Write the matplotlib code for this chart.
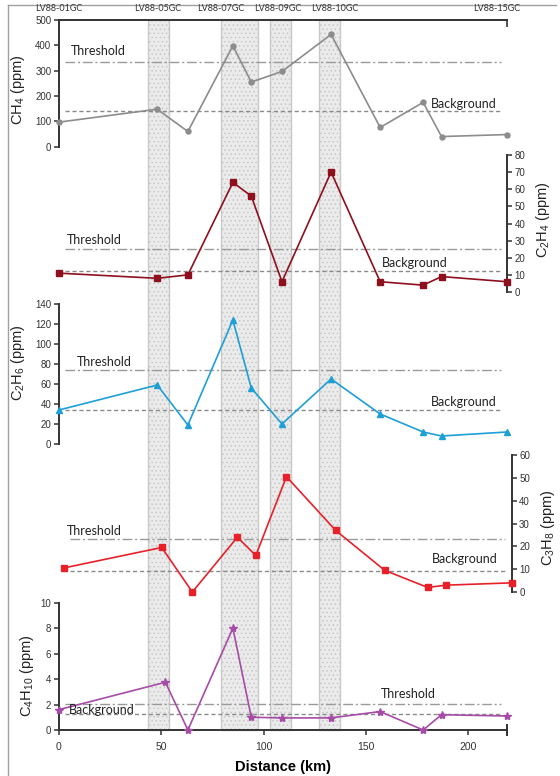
import matplotlib
matplotlib.use("Agg")
import matplotlib.pyplot as plt
from matplotlib.patches import Rectangle
from matplotlib.transforms import blended_transform_factory
from matplotlib.lines import Line2D

plt.rcParams["hatch.color"] = "#d6d6d6"
plt.rcParams["hatch.linewidth"] = 0.6
plt.rcParams["mathtext.fontset"] = "custom"
plt.rcParams["mathtext.rm"] = "Liberation Sans"
plt.rcParams["mathtext.it"] = "Liberation Sans"

# distance along the profile (km)
dist = [0, 48, 63, 85, 94, 109, 133, 157, 178, 187, 219]
dist_c4 = [0, 52, 63, 85, 94, 109, 133, 157, 178, 187, 219]

ch4 = [97, 148, 60, 398, 255, 297, 443, 76, 175, 40, 48]
c2h4 = [11, 8, 10, 64, 56, 6, 70, 6, 4, 9, 6]
c2h6 = [34, 59, 19, 124, 56, 20, 65, 30, 12, 8, 12]
c3h8 = [10.5, 19.5, 0, 24, 16, 50.5, 27, 9.5, 2, 3, 4]
c4h10 = [1.6, 3.75, 0, 8, 1.0, 0.95, 0.95, 1.45, 0, 1.2, 1.1]

threshold = [335, 25, 74, 23.4, 2.07]
background = [140, 12.5, 34, 9.1, 1.26]

# shaded core zones (km)
bands = [(43.6, 53.8), (79.2, 97.3), (103.2, 113.5), (126.9, 137.3)]

stations = ["LV88-01GC", "LV88-05GC", "LV88-07GC", "LV88-09GC", "LV88-10GC", "LV88-15GC"]
station_x = [0, 48, 79, 107, 135, 214]

W, H = 560, 776
fig = plt.figure(figsize=(W / 100, H / 100), dpi=100)

def px(x0, y_top, y_bot, x1):
    return [x0 / W, 1 - y_bot / H, (x1 - x0) / W, (y_bot - y_top) / H]

note_font = dict(family="Lato", size=9, color="#222222")

def panel(rect, x, y, color, marker, ms, ylim, step, side, thr, bg, thr_xy, bg_xy):
    ax = fig.add_axes(rect)
    ax.set_facecolor("none")
    ax.set_xlim(0, 219)
    ax.set_ylim(*ylim)
    for s in ["left", "right", "top", "bottom"]:
        ax.spines[s].set_visible(False)
    ax.spines[side].set_visible(True)
    ax.spines[side].set_linewidth(1.4)
    ax.spines[side].set_color("#333333")
    if side == "right":
        ax.yaxis.tick_right()
    else:
        ax.yaxis.tick_left()
    ax.set_yticks(range(ylim[0], ylim[1] + 1, step))
    ax.tick_params(axis="y", length=3.5, width=1.1, color="#333333", pad=2,
                   labelsize=7, labelcolor="#333333")
    for lab in ax.get_yticklabels():
        lab.set_family("Liberation Sans")
    ax.set_xticks([])
    ax.hlines(thr, 3, 216, colors="#9a9a9a", linestyles=(0, (7, 2, 1.5, 2)), lw=1)
    ax.hlines(bg, 3, 216, colors="#8a8a8a", linestyles=(0, (3, 2)), lw=1)
    ax.plot(x, y, color=color, lw=1.2, marker=marker, ms=ms, clip_on=False, zorder=3)
    ax.text(thr_xy[0], thr_xy[1], "Threshold", ha="left", va="center", **note_font)
    ax.text(bg_xy[0], bg_xy[1], "Background", ha="left", va="center", **note_font)
    return ax

ax1 = panel(px(59, 20, 146.7, 507), dist, ch4, "#8c8c8c", "o", 3.6, (0, 500), 100, "left",
            threshold[0], background[0], (5.7, 379), (182, 168))
ax1.spines["top"].set_visible(True)
ax1.spines["top"].set_linewidth(1.4)
ax1.spines["top"].set_color("#333333")
ax1.xaxis.tick_top()
ax1.set_xticks([219])
ax1.set_xticklabels([])
ax1.tick_params(axis="x", direction="in", length=5, width=1.2, color="#333333")

ax2 = panel(px(59, 155, 292, 507), dist, c2h4, "#8e0f1e", "s", 4, (0, 80), 10, "right",
            threshold[1], background[1], (3.9, 30.4), (158, 17.1))
ax3 = panel(px(59, 304, 444, 507), dist, c2h6, "#1e9fd6", "^", 4.5, (0, 140), 20, "left",
            threshold[2], background[2], (8.8, 82), (182, 42.3))
ax4 = panel(px(63.5, 455, 592, 511.5), dist, c3h8, "#e8202a", "s", 5, (0, 60), 10, "right",
            threshold[3], background[3], (1.7, 26.8), (180, 14.5))
ax5 = panel(px(59, 602.7, 730, 507), dist_c4, c4h10, "#a64ca6", "*", 6, (0, 10), 2, "left",
            threshold[4], background[4], (157.5, 2.83), (4.7, 1.57))
ax5.spines["bottom"].set_visible(True)
ax5.spines["bottom"].set_linewidth(1.4)
ax5.spines["bottom"].set_color("#333333")
ax5.set_xticks([0, 50, 100, 150, 200])
ax5.set_xticks([219], minor=True)
ax5.tick_params(axis="x", which="major", length=3.5, width=1.1, color="#333333",
                labelsize=7.5, labelcolor="#333333", pad=5)
ax5.tick_params(axis="x", which="minor", direction="inout", length=9, width=1.4,
                color="#333333")
for lab in ax5.get_xticklabels():
    lab.set_family("Liberation Sans")
ax5.set_xlabel("Distance (km)", fontsize=10.5, fontweight="bold",
               family="Liberation Sans", labelpad=6)

# shaded zones through every panel
tr = blended_transform_factory(ax5.transData, fig.transFigure)
for a, b in bands:
    fig.patches.append(Rectangle((a, 1 - 730 / H), b - a, (730 - 20) / H, transform=tr,
                                 facecolor="#ebebeb", edgecolor="#c8c8c8", lw=1,
                                 hatch="....", zorder=-1))

# station names
trs = blended_transform_factory(ax1.transData, fig.transFigure)
for name, sx in zip(stations, station_x):
    fig.text(sx, 1 - 8.5 / H, name, transform=trs, ha="center", va="center",
             family="Lato", fontsize=6.5, color="#333333")

# y labels
lab_kw = dict(rotation=90, ha="center", va="center", fontsize=10.5,
              family="Liberation Sans", color="#222222")
fig.text(18 / W, 1 - 90 / H, "CH$_4$ (ppm)", **lab_kw)
fig.text(543 / W, 1 - 220 / H, "C$_2$H$_4$ (ppm)", **lab_kw)
fig.text(18 / W, 1 - 363 / H, "C$_2$H$_6$ (ppm)", **lab_kw)
fig.text(548 / W, 1 - 528 / H, "C$_3$H$_8$ (ppm)", **lab_kw)
fig.text(27 / W, 1 - 676 / H, "C$_4$H$_{10}$ (ppm)", **lab_kw)

# frame
fig.lines.append(Line2D([8 / W, 8 / W], [0, 1 - 5 / H], transform=fig.transFigure,
                        color="#a0a0a0", lw=1))
fig.lines.append(Line2D([8 / W, 556 / W], [1 - 5 / H, 1 - 5 / H], transform=fig.transFigure,
                        color="#a0a0a0", lw=1))

fig.savefig("out.png", dpi=100)
